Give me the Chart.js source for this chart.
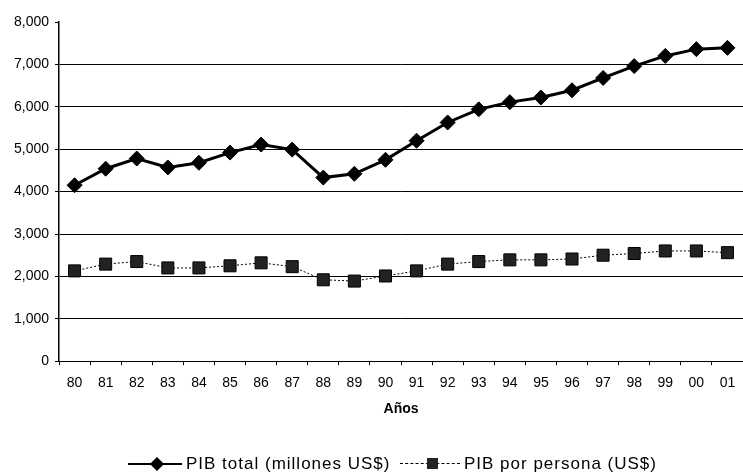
<!DOCTYPE html>
<html>
<head>
<meta charset="utf-8">
<script src="https://cdn.jsdelivr.net/npm/chart.js@4.4.1/dist/chart.umd.min.js"></script>
<style>
  html, body { margin: 0; padding: 0; background: #fff; overflow: hidden; }
  #wrap { position: relative; width: 743px; height: 476px; }
  #legend { position: absolute; left: 0; top: 452px; width: 743px; height: 24px;
            font-family: "Liberation Sans", Arial, sans-serif; font-size: 17px; letter-spacing: 1px; color: #000; }
  .lg-line { position: absolute; top: 11px; height: 0; }
  .lg-text { position: absolute; top: 2px; white-space: nowrap; }
  .lg-diamond { position: absolute; top: 7px; width: 10px; height: 10px; background: #000; transform: rotate(45deg); }
  .lg-square { position: absolute; top: 6px; width: 11px; height: 11px; background: #222; }
</style>
</head>
<body>
<div id="wrap">
  <canvas id="chart"></canvas>
  <div id="legend">
    <div class="lg-line" style="left:128px; width:54px; border-top:2.5px solid #000;"></div>
    <div class="lg-diamond" style="left:152px;"></div>
    <div class="lg-text" style="left:186px;">PIB total (millones US$)</div>
    <div class="lg-line" style="left:400px; width:60px; border-top:1px dashed #000;"></div>
    <div class="lg-square" style="left:427px;"></div>
    <div class="lg-text" style="left:464px;">PIB por persona (US$)</div>
  </div>
</div>
<script>
// Years (two-digit labels as in the original)
const years = ['80', '81', '82', '83', '84', '85', '86', '87', '88', '89', '90',
               '91', '92', '93', '94', '95', '96', '97', '98', '99', '00', '01'];

// PIB total (millones US$)
const pibTotal = [4150, 4540, 4780, 4570, 4680, 4920, 5110, 4990, 4330, 4420, 4750,
                  5200, 5630, 5940, 6110, 6220, 6390, 6680, 6960, 7200, 7360, 7390];

// PIB por persona (US$)
const pibPersona = [2130, 2290, 2350, 2200, 2200, 2250, 2320, 2230, 1920, 1890, 2010,
                    2130, 2290, 2350, 2390, 2390, 2410, 2500, 2540, 2600, 2600, 2560];

const yMin = 0;
const yMax = 8000;
const yStep = 1000;

const fontFamily = '"Liberation Sans", Arial, sans-serif';

const ctx = document.getElementById('chart');

new Chart(ctx, {
    type: 'line',
    data: {
        labels: years,
        datasets: [
            {
                label: 'PIB total (millones US$)',
                data: pibTotal,
                borderColor: '#000',
                backgroundColor: '#000',
                borderWidth: 3,
                pointStyle: 'rectRot',
                pointRadius: 7.5,
                pointBorderWidth: 1,
                tension: 0,
                clip: false
            },
            {
                label: 'PIB por persona (US$)',
                data: pibPersona,
                borderColor: '#000',
                backgroundColor: '#222',
                borderWidth: 1,
                borderDash: [2, 2],
                pointStyle: 'rect',
                pointRadius: 8.5,
                pointBorderWidth: 1,
                tension: 0,
                clip: false
            }
        ]
    },
    options: {
        responsive: true,
        maintainAspectRatio: false,
        animation: false,
        layout: {
            autoPadding: false,
            padding: { top: 22, right: 0, left: 8, bottom: 60 }
        },
        plugins: {
            legend: { display: false },
            tooltip: { enabled: false }
        },
        scales: {
            x: {
                offset: true,
                // let the plot run to the right edge like the original
                afterFit: scale => { scale.paddingRight = 0; },
                grid: {
                    offset: true,
                    drawOnChartArea: false,
                    drawTicks: true,
                    tickLength: 4,
                    color: '#000'
                },
                border: { display: true, color: '#000', width: 1 },
                ticks: {
                    autoSkip: false,
                    maxRotation: 0,
                    padding: 10,
                    color: '#000',
                    font: { family: fontFamily, size: 14 }
                },
                title: {
                    display: true,
                    text: 'Años',
                    color: '#000',
                    font: { family: fontFamily, size: 14, weight: 'bold', lineHeight: 1 },
                    padding: { top: 0, bottom: 0 }
                }
            },
            y: {
                min: yMin,
                max: yMax,
                grid: {
                    color: c => (c.tick && c.tick.value === yMax) ? 'rgba(0,0,0,0)' : '#000',
                    tickColor: '#000',
                    lineWidth: 1,
                    tickLength: 4
                },
                border: { display: true, color: '#000', width: 1.5 },
                ticks: {
                    stepSize: yStep,
                    padding: 6,
                    color: '#000',
                    font: { family: fontFamily, size: 14 },
                    callback: v => v.toLocaleString('en-US')
                }
            }
        }
    }
});
</script>
</body>
</html>
